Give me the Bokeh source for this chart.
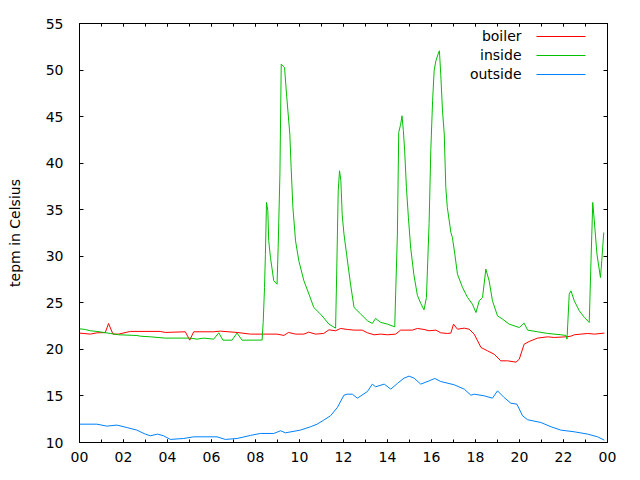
from bokeh.plotting import figure
from bokeh.models import FixedTicker, LinearAxis, Label, BoxAnnotation, Range1d
from bokeh.embed import file_html
from bokeh.resources import INLINE

# ---- data (hours of day, degrees Celsius) ----
boiler_hours = [0, 0.49, 0.79, 1.17, 1.32, 1.52, 1.78, 2.31, 3.67, 3.9,
                4.81, 5.01, 5.19, 6.1, 6.4, 7.16, 7.77, 8.38, 8.98, 9.29,
                9.5, 9.82, 10.2, 10.42, 10.73, 11.1, 11.34, 11.64, 11.87, 12.17,
                12.48, 12.85, 13.09, 13.39, 13.69, 14.0, 14.37, 14.6, 15.13, 15.36,
                15.66, 15.89, 16.2, 16.42, 16.72, 16.88, 17.0, 17.18, 17.49, 17.71,
                17.94, 18.25, 18.55, 18.85, 19.15, 19.46, 19.84, 19.99, 20.21, 20.44,
                20.82, 21.28, 21.58, 22.11, 22.34, 22.49, 23.1, 23.4, 23.86]
boiler_values = [21.75, 21.64, 21.78, 21.8, 22.78, 21.64, 21.64, 21.93, 21.93, 21.82,
                 21.89, 20.99, 21.89, 21.89, 21.96, 21.82, 21.64, 21.64, 21.64, 21.5,
                 21.82, 21.64, 21.64, 21.85, 21.64, 21.71, 22.1, 22.0, 22.25, 22.14,
                 22.07, 22.07, 21.78, 21.57, 21.64, 21.57, 21.64, 22.07, 22.07, 22.25,
                 22.14, 22.0, 22.07, 21.78, 21.71, 21.75, 22.71, 22.17, 22.28, 22.17,
                 21.64, 20.2, 19.84, 19.48, 18.77, 18.77, 18.63, 18.95, 20.56, 20.85,
                 21.21, 21.35, 21.28, 21.35, 21.42, 21.57, 21.71, 21.64, 21.75]

inside_hours = [0, 0.26, 0.49, 0.79, 1.4, 1.78, 2.61, 2.76, 3.22, 3.9,
                5.04, 5.34, 5.65, 6.1, 6.33, 6.52, 6.93, 7.16, 7.39, 8.3,
                8.35, 8.41, 8.45, 8.5, 8.56, 8.6, 8.68, 8.83, 8.98, 9.03,
                9.11, 9.17, 9.32, 9.41, 9.56, 9.62, 9.7, 9.82, 9.97, 10.2,
                10.43, 10.65, 10.96, 11.34, 11.64, 11.69, 11.76, 11.82, 11.88, 11.94,
                12.02, 12.14, 12.32, 12.48, 12.78, 13.09, 13.31, 13.46, 13.69, 14.0,
                14.33, 14.37, 14.45, 14.51, 14.6, 14.66, 14.72, 14.78, 14.86, 14.95,
                15.05, 15.2, 15.36, 15.51, 15.66, 15.77, 15.89, 15.97, 16.05, 16.12,
                16.2, 16.3, 16.36, 16.42, 16.5, 16.58, 16.65, 16.72, 16.88, 16.95,
                17.06, 17.18, 17.41, 17.64, 17.86, 18.02, 18.17, 18.32, 18.47, 18.62,
                18.77, 19.0, 19.23, 19.53, 19.99, 20.21, 20.37, 20.82, 21.28, 21.88,
                22.11, 22.16, 22.26, 22.34, 22.49, 22.72, 22.95, 23.17, 23.25, 23.33,
                23.4, 23.52, 23.68, 23.74, 23.83]
inside_values = [22.21, 22.14, 22.0, 21.93, 21.71, 21.57, 21.49, 21.42, 21.35, 21.21,
                 21.21, 21.1, 21.21, 21.1, 21.78, 20.99, 20.99, 21.75, 20.99, 21.0,
                 22.9, 26.65, 30.2, 35.78, 34.9, 31.7, 29.87, 27.37, 27.0, 30.95,
                 38.82, 50.64, 50.28, 47.42, 43.12, 39.54, 35.24, 31.66, 29.51, 27.37,
                 25.93, 24.5, 23.78, 22.71, 22.28, 28.08, 37.03, 39.18, 38.1, 34.5,
                 32.4, 30.23, 27.0, 24.5, 23.8, 23.07, 22.79, 23.32, 22.9, 22.71,
                 22.42, 25.93, 32.38, 43.3, 44.19, 45.09, 43.5, 41.33, 37.39, 34.17,
                 31.0, 28.0, 25.8, 24.95, 24.25, 25.57, 33.5, 41.5, 46.7, 49.92,
                 51.0, 51.71, 52.07, 49.56, 45.62, 43.12, 37.39, 35.24, 32.56, 32.02,
                 30.23, 28.08, 26.65, 25.57, 24.86, 23.96, 25.22, 25.57, 28.62, 27.37,
                 25.22, 23.6, 23.25, 22.71, 22.35, 22.82, 22.07, 21.89, 21.71, 21.57,
                 21.5, 21.1, 25.93, 26.29, 25.22, 24.14, 23.43, 22.89, 29.51, 35.78,
                 33.81, 30.23, 27.72, 29.51, 32.56]

outside_hours = [0, 0.79, 1.24, 1.70, 2.15, 2.61, 2.99, 3.22, 3.55, 3.82,
                 4.13, 4.73, 5.19, 6.25, 6.63, 7.16, 7.77, 8.22, 8.83, 9.14,
                 9.36, 10.04, 10.5, 10.8, 11.1, 11.41, 11.72, 12.02, 12.17, 12.4,
                 12.63, 13.09, 13.31, 13.46, 13.85, 14.15, 14.45, 14.75, 14.98, 15.21,
                 15.51, 15.89, 16.15, 16.42, 17.03, 17.49, 17.79, 17.94, 18.4, 18.77,
                 19.0, 19.3, 19.61, 19.88, 20.14, 20.37, 20.97, 21.43, 21.88, 22.49,
                 23.1, 23.55, 23.86]
outside_values = [11.97, 11.97, 11.76, 11.87, 11.61, 11.33, 10.9, 10.72, 10.9, 10.72,
                  10.33, 10.43, 10.61, 10.61, 10.33, 10.43, 10.76, 10.97, 10.97, 11.26,
                  11.04, 11.33, 11.69, 11.97, 12.40, 12.87, 13.76, 15.08, 15.19, 15.19,
                  14.76, 15.48, 16.27, 15.98, 16.27, 15.73, 16.34, 16.91, 17.13, 16.91,
                  16.27, 16.62, 16.88, 16.55, 16.20, 15.73, 15.08, 15.19, 15.01, 14.76,
                  15.55, 14.83, 14.22, 14.12, 12.87, 12.44, 12.15, 11.69, 11.33, 11.15,
                  10.9, 10.61, 10.25]

xtick_hours = [0, 2, 4, 6, 8, 10, 12, 14, 16, 18, 20, 22, 24]
xtick_labels = ["00", "02", "04", "06", "08", "10", "12", "14", "16", "18", "20", "22", "00"]
xminor_hours = list(range(0, 25))
ytick_values = [10, 15, 20, 25, 30, 35, 40, 45, 50, 55]

series_names = ["boiler", "inside", "outside"]
series_colors = ["#ff0000", "#00c000", "#0080ff"]

FONT = "DejaVu Sans"

p = figure(width=632, height=472, output_backend="svg", toolbar_location=None,
           x_range=Range1d(0, 24), y_range=Range1d(10, 55),
           min_border_left=79, min_border_right=25, min_border_top=23, min_border_bottom=30)
p.xgrid.visible = False
p.ygrid.visible = False
p.outline_line_color = "black"
p.outline_line_alpha = 1
p.outline_line_width = 1
p.background_fill_color = "white"
p.border_fill_color = "white"

for h, v, c in zip([boiler_hours, inside_hours, outside_hours],
                   [boiler_values, inside_values, outside_values], series_colors):
    p.line(h, v, line_color=c, line_width=1)

xt = FixedTicker(ticks=xtick_hours, minor_ticks=xminor_hours)
yt = FixedTicker(ticks=ytick_values, minor_ticks=[])

def style(ax, tick_len, labels=True):
    ax.axis_line_color = "black"
    ax.major_tick_in = tick_len
    ax.major_tick_out = 0
    ax.minor_tick_in = tick_len
    ax.minor_tick_out = 0
    ax.major_tick_line_color = "black"
    ax.minor_tick_line_color = "black"
    if labels:
        ax.major_label_text_font = FONT
        ax.major_label_text_font_size = "14px"
        ax.major_label_text_color = "black"
    else:
        ax.major_label_text_color = None
        ax.major_label_text_font_size = "1px"
        ax.major_label_standoff = 0

xa = p.xaxis[0]
xa.ticker = xt
xa.major_label_overrides = {h: l for h, l in zip(xtick_hours, xtick_labels)}
style(xa, 3)
xa.major_label_standoff = 9

ya = p.yaxis[0]
ya.ticker = yt
style(ya, 4)
ya.major_label_standoff = 16
ya.axis_label = "tepm in Celsius"
ya.axis_label_text_font = FONT
ya.axis_label_text_font_size = "14px"
ya.axis_label_text_font_style = "normal"
ya.axis_label_text_color = "black"
ya.axis_label_standoff = 20

top = LinearAxis(ticker=xt)
style(top, 3, labels=False)
p.add_layout(top, "above")
right = LinearAxis(ticker=yt)
style(right, 4, labels=False)
p.add_layout(right, "right")

# legend: gnuplot style (text, then line sample), top right inside the frame
leg_text_x = 442
leg_line_x0, leg_line_x1 = 457, 506
leg_y = [407, 388, 369]
for name, c, y in zip(series_names, series_colors, leg_y):
    p.add_layout(Label(x=leg_text_x, y=y, x_units="screen", y_units="screen", text=name,
                       text_align="right", text_baseline="middle", text_font=FONT,
                       text_font_size="14px", text_color="black"))
    p.add_layout(BoxAnnotation(left=leg_line_x0, right=leg_line_x1, bottom=y - 1.5, top=y - 0.5,
                               left_units="screen", right_units="screen",
                               bottom_units="screen", top_units="screen",
                               fill_color=c, fill_alpha=1, line_color=None))

open("out.html", "w").write(file_html(p, INLINE))
